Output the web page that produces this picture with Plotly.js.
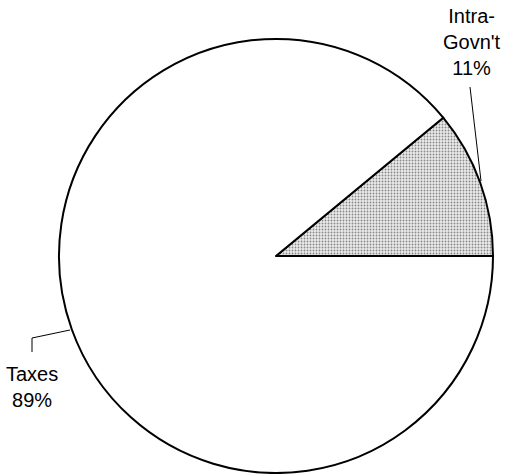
<!DOCTYPE html>
<html>
<head>
<meta charset="utf-8">
<script src="https://cdn.plot.ly/plotly-3.0.1.min.js"></script>
<style>html,body{margin:0;padding:0;background:#fff;}#chart{width:506px;height:474px;}</style>
</head>
<body>
<div id="chart"></div>
<script>
const labels = ["Intra-Govn't", "Taxes"];
const values = [11, 89];
const labelText = ["Intra-<br>Govn't<br>11%", "Taxes<br>89%"];

const W = 506, H = 474;
const px = x => x / W;
const py = y => (H - y) / H;
const total = values.reduce((a, b) => a + b, 0);

const data = [{
  type: 'pie',
  labels: labels,
  values: values,
  sort: false,
  direction: 'clockwise',
  rotation: 90 - values[0] / total * 360,
  textinfo: 'none',
  hoverinfo: 'label+percent',
  showlegend: false,
  domain: {x: [px(58), px(494)], y: [py(473), py(39)]},
  marker: {
    colors: ['#d6d6d6', '#ffffff'],
    line: {color: '#000000', width: 2},
    pattern: {shape: ['.', ''], fgcolor: '#888888', bgcolor: '#ebebeb', size: 3, solidity: 0.3}
  }
}];

const font = {family: 'Liberation Sans, Arial, sans-serif', size: 20, color: '#000'};
const layout = {
  width: W, height: H,
  margin: {l: 0, r: 0, t: 0, b: 0},
  paper_bgcolor: '#fff',
  plot_bgcolor: '#fff',
  annotations: [
    {text: labelText[0], xref: 'paper', yref: 'paper', x: px(471.5), y: py(42), xanchor: 'center', yanchor: 'middle', showarrow: false, font: font, align: 'center'},
    {text: labelText[1], xref: 'paper', yref: 'paper', x: px(32), y: py(387), xanchor: 'center', yanchor: 'middle', showarrow: false, font: font, align: 'center'}
  ],
  shapes: [
    {type: 'path', xref: 'paper', yref: 'paper', path: `M ${px(470)} ${py(87)} L ${px(481)} ${py(181)}`, line: {color: '#000', width: 1}},
    {type: 'path', xref: 'paper', yref: 'paper', path: `M ${px(32)} ${py(352)} L ${px(32)} ${py(338)} L ${px(70)} ${py(330)}`, line: {color: '#000', width: 1}}
  ]
};

Plotly.newPlot('chart', data, layout, {displayModeBar: false, staticPlot: true});
</script>
</body>
</html>
